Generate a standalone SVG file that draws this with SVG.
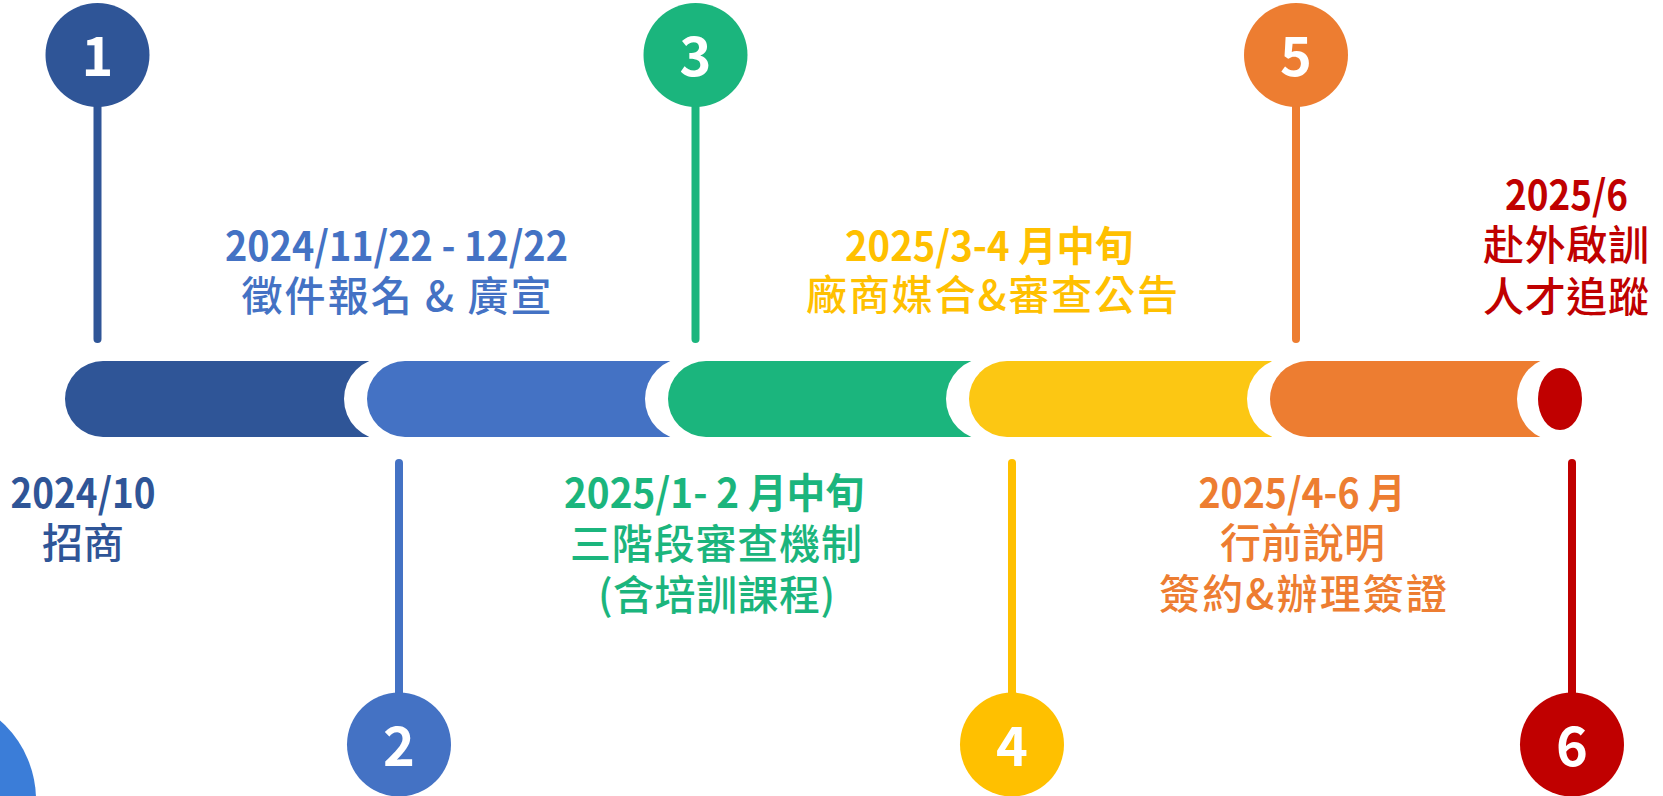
<svg xmlns="http://www.w3.org/2000/svg" width="1663" height="796" viewBox="0 0 1663 796">
<style>
text{font-family:"Noto Sans CJK TC","Noto Sans CJK SC",sans-serif;text-anchor:middle}
.d{font-size:41px;font-weight:700}
.c{font-size:41px;font-weight:500}
.n{font-size:54px;font-weight:700;fill:#fff}
.stem{stroke-width:8;stroke-linecap:round;fill:none}
.w{fill:#fff}
</style>
<rect width="1663" height="796" fill="#fff"/>
<circle cx="-70" cy="800" r="106" fill="#3B7DD8"/>
<g id="timeline">
<path d="M103 361H420V437H103A38 38 0 0 1 103 361Z" fill="#2F5597"/>
<path class="w" d="M385 358H720V440H385A41 41 0 0 1 385 358Z"/>
<path d="M405 361H720V437H405A38 38 0 0 1 405 361Z" fill="#4472C4"/>
<path class="w" d="M686 358H1020V440H686A41 41 0 0 1 686 358Z"/>
<path d="M706 361H1020V437H706A38 38 0 0 1 706 361Z" fill="#1BB57D"/>
<path class="w" d="M987 358H1320V440H987A41 41 0 0 1 987 358Z"/>
<path d="M1007 361H1320V437H1007A38 38 0 0 1 1007 361Z" fill="#FCC713"/>
<path class="w" d="M1288 358H1570V440H1288A41 41 0 0 1 1288 358Z"/>
<path d="M1308 361H1570V437H1308A38 38 0 0 1 1308 361Z" fill="#ED7D31"/>
<ellipse class="w" cx="1557" cy="399" rx="40" ry="42"/>
<ellipse cx="1560" cy="399" rx="22" ry="31" fill="#C00000"/>
</g>
<g id="connectors">
<line class="stem" x1="97.5" y1="100" x2="97.5" y2="339" stroke="#2F5597"/>
<line class="stem" x1="399" y1="463" x2="399" y2="700" stroke="#4472C4"/>
<line class="stem" x1="695.5" y1="100" x2="695.5" y2="339" stroke="#1BB57D"/>
<line class="stem" x1="1012" y1="463" x2="1012" y2="700" stroke="#FFC000"/>
<line class="stem" x1="1296" y1="100" x2="1296" y2="339" stroke="#ED7D31"/>
<line class="stem" x1="1572" y1="463" x2="1572" y2="700" stroke="#C00000"/>
</g>
<g id="step1">
<circle cx="97.5" cy="55" r="52" fill="#2F5597"/>
<text class="n" x="97.5" y="76">1</text>
<text fill="#2F5597"><tspan class="d" x="83" y="508" textLength="145" lengthAdjust="spacingAndGlyphs">2024/10</tspan><tspan class="c" x="83" y="558">招商</tspan></text>
</g>
<g id="step2">
<circle cx="399" cy="744.5" r="52" fill="#4472C4"/>
<text class="n" x="399" y="766">2</text>
<text fill="#4472C4"><tspan class="d" x="396.5" y="261" textLength="343" lengthAdjust="spacingAndGlyphs">2024/11/22 - 12/22</tspan><tspan class="c" x="396.5" y="311" textLength="310" lengthAdjust="spacing">徵件報名 &amp; 廣宣</tspan></text>
</g>
<g id="step3">
<circle cx="695.5" cy="55" r="52" fill="#1BB57D"/>
<text class="n" x="695.5" y="76">3</text>
<text fill="#1BB57D"><tspan class="d" x="714" y="508" textLength="300" lengthAdjust="spacingAndGlyphs">2025/1- 2 月中旬</tspan><tspan class="c" x="716" y="559" textLength="292" lengthAdjust="spacing">三階段審查機制</tspan><tspan class="c" x="716.5" y="610" textLength="237" lengthAdjust="spacing">(含培訓課程)</tspan></text>
</g>
<g id="step4">
<circle cx="1012" cy="744.5" r="52" fill="#FFC000"/>
<text class="n" x="1012" y="766">4</text>
<text fill="#FFC000"><tspan class="d" x="989" y="261" textLength="288" lengthAdjust="spacingAndGlyphs">2025/3-4 月中旬</tspan><tspan class="c" x="992" y="310" textLength="372" lengthAdjust="spacing">廠商媒合&amp;審查公告</tspan></text>
</g>
<g id="step5">
<circle cx="1296" cy="55" r="52" fill="#ED7D31"/>
<text class="n" x="1296" y="76">5</text>
<text fill="#ED7D31"><tspan class="d" x="1302" y="508" textLength="207" lengthAdjust="spacingAndGlyphs">2025/4-6 月</tspan><tspan class="c" x="1302.5" y="558" textLength="165" lengthAdjust="spacing">行前說明</tspan><tspan class="c" x="1303" y="609" textLength="288" lengthAdjust="spacing">簽約&amp;辦理簽證</tspan></text>
</g>
<g id="step6">
<circle cx="1572" cy="744.5" r="52" fill="#C00000"/>
<text class="n" x="1572" y="766">6</text>
<text fill="#C00000"><tspan class="d" x="1566.5" y="210" textLength="123" lengthAdjust="spacingAndGlyphs">2025/6</tspan><tspan class="c" x="1566" y="260" textLength="166" lengthAdjust="spacing">赴外啟訓</tspan><tspan class="c" x="1566" y="312" textLength="166" lengthAdjust="spacing">人才追蹤</tspan></text>
</g>
</svg>
